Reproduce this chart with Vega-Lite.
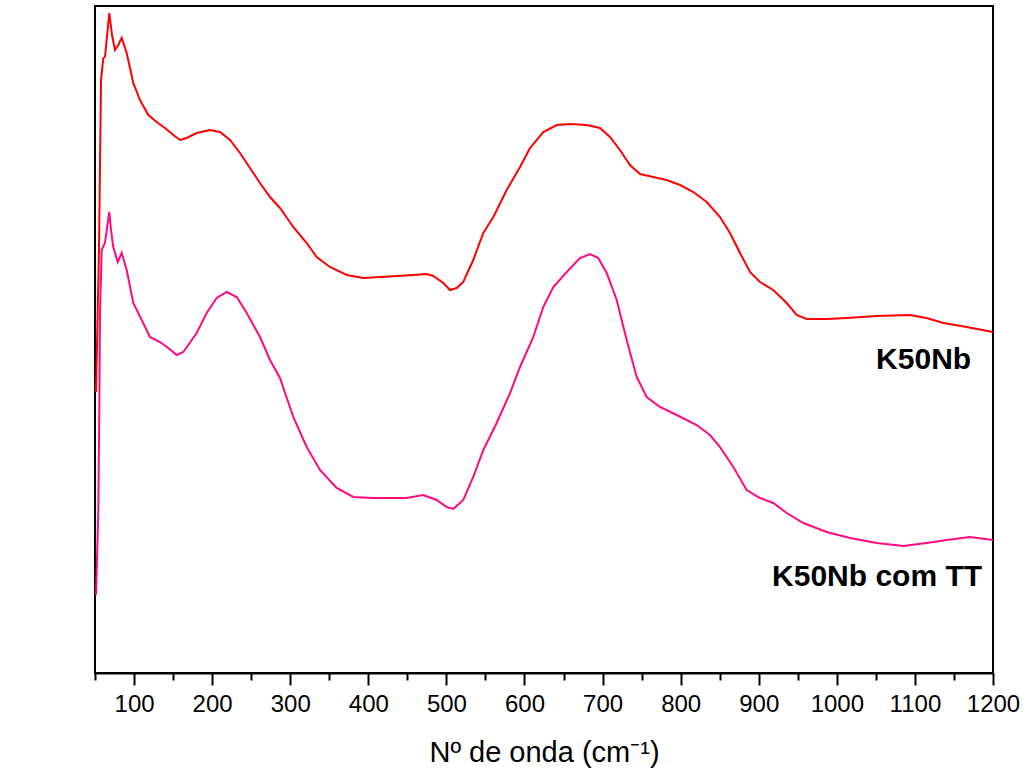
{
  "$schema": "https://vega.github.io/schema/vega-lite/v6.json",
  "width": 898,
  "height": 667,
  "autosize": {"type": "none"},
  "padding": {"left": 95, "top": 6, "right": 35, "bottom": 107},
  "background": "white",
  "config": {
    "font": "Liberation Sans",
    "view": {"stroke": "black", "strokeWidth": 2},
    "axis": {"domainColor": "black", "domainWidth": 2, "tickColor": "black", "tickWidth": 2, "labelColor": "black", "titleColor": "black", "labelFont": "Liberation Sans", "titleFont": "Liberation Sans", "titleFontWeight": "normal", "grid": false}
  },
  "datasets": {
    "spectra": [
      {"w": 51.3, "I": 281, "s": "K50Nb"},
      {"w": 55.1, "I": 423, "s": "K50Nb"},
      {"w": 57.7, "I": 593, "s": "K50Nb"},
      {"w": 60.6, "I": 615, "s": "K50Nb"},
      {"w": 62.8, "I": 616, "s": "K50Nb"},
      {"w": 65.8, "I": 640, "s": "K50Nb"},
      {"w": 68.3, "I": 660, "s": "K50Nb"},
      {"w": 71.8, "I": 638, "s": "K50Nb"},
      {"w": 75.6, "I": 623, "s": "K50Nb"},
      {"w": 79.8, "I": 628, "s": "K50Nb"},
      {"w": 84.2, "I": 635, "s": "K50Nb"},
      {"w": 90.6, "I": 620, "s": "K50Nb"},
      {"w": 99.0, "I": 590, "s": "K50Nb"},
      {"w": 107.6, "I": 573, "s": "K50Nb"},
      {"w": 118.3, "I": 558, "s": "K50Nb"},
      {"w": 129.0, "I": 551, "s": "K50Nb"},
      {"w": 139.6, "I": 545, "s": "K50Nb"},
      {"w": 150.3, "I": 538, "s": "K50Nb"},
      {"w": 158.9, "I": 533, "s": "K50Nb"},
      {"w": 167.4, "I": 535, "s": "K50Nb"},
      {"w": 180.2, "I": 540, "s": "K50Nb"},
      {"w": 197.3, "I": 543, "s": "K50Nb"},
      {"w": 210.1, "I": 541, "s": "K50Nb"},
      {"w": 222.9, "I": 533, "s": "K50Nb"},
      {"w": 235.7, "I": 520, "s": "K50Nb"},
      {"w": 248.5, "I": 505, "s": "K50Nb"},
      {"w": 261.3, "I": 490, "s": "K50Nb"},
      {"w": 274.1, "I": 476, "s": "K50Nb"},
      {"w": 286.9, "I": 465, "s": "K50Nb"},
      {"w": 303.9, "I": 446, "s": "K50Nb"},
      {"w": 321.1, "I": 430, "s": "K50Nb"},
      {"w": 333.9, "I": 416, "s": "K50Nb"},
      {"w": 350.9, "I": 406, "s": "K50Nb"},
      {"w": 372.3, "I": 398, "s": "K50Nb"},
      {"w": 393.6, "I": 395, "s": "K50Nb"},
      {"w": 415.0, "I": 396, "s": "K50Nb"},
      {"w": 436.4, "I": 397, "s": "K50Nb"},
      {"w": 457.6, "I": 398, "s": "K50Nb"},
      {"w": 474.8, "I": 399, "s": "K50Nb"},
      {"w": 483.2, "I": 397, "s": "K50Nb"},
      {"w": 496.0, "I": 390, "s": "K50Nb"},
      {"w": 504.6, "I": 383, "s": "K50Nb"},
      {"w": 513.2, "I": 385, "s": "K50Nb"},
      {"w": 521.6, "I": 391, "s": "K50Nb"},
      {"w": 534.4, "I": 413, "s": "K50Nb"},
      {"w": 547.3, "I": 440, "s": "K50Nb"},
      {"w": 560.1, "I": 456, "s": "K50Nb"},
      {"w": 577.2, "I": 483, "s": "K50Nb"},
      {"w": 594.3, "I": 506, "s": "K50Nb"},
      {"w": 607.1, "I": 525, "s": "K50Nb"},
      {"w": 624.1, "I": 541, "s": "K50Nb"},
      {"w": 641.3, "I": 548, "s": "K50Nb"},
      {"w": 658.3, "I": 549, "s": "K50Nb"},
      {"w": 679.7, "I": 548, "s": "K50Nb"},
      {"w": 696.7, "I": 545, "s": "K50Nb"},
      {"w": 709.5, "I": 536, "s": "K50Nb"},
      {"w": 722.3, "I": 523, "s": "K50Nb"},
      {"w": 735.1, "I": 508, "s": "K50Nb"},
      {"w": 747.9, "I": 499, "s": "K50Nb"},
      {"w": 765.0, "I": 496, "s": "K50Nb"},
      {"w": 782.1, "I": 493, "s": "K50Nb"},
      {"w": 799.2, "I": 488, "s": "K50Nb"},
      {"w": 816.2, "I": 481, "s": "K50Nb"},
      {"w": 833.4, "I": 471, "s": "K50Nb"},
      {"w": 850.4, "I": 456, "s": "K50Nb"},
      {"w": 863.2, "I": 440, "s": "K50Nb"},
      {"w": 876.0, "I": 420, "s": "K50Nb"},
      {"w": 888.8, "I": 401, "s": "K50Nb"},
      {"w": 901.6, "I": 391, "s": "K50Nb"},
      {"w": 918.6, "I": 383, "s": "K50Nb"},
      {"w": 935.8, "I": 370, "s": "K50Nb"},
      {"w": 948.6, "I": 358, "s": "K50Nb"},
      {"w": 961.4, "I": 354, "s": "K50Nb"},
      {"w": 987.0, "I": 354, "s": "K50Nb"},
      {"w": 1012.6, "I": 355, "s": "K50Nb"},
      {"w": 1051.0, "I": 357, "s": "K50Nb"},
      {"w": 1093.7, "I": 358, "s": "K50Nb"},
      {"w": 1115.0, "I": 355, "s": "K50Nb"},
      {"w": 1136.3, "I": 350, "s": "K50Nb"},
      {"w": 1166.3, "I": 346, "s": "K50Nb"},
      {"w": 1200.0, "I": 341, "s": "K50Nb"},

      {"w": 51.3, "I": 78, "s": "K50Nb com TT"},
      {"w": 54.2, "I": 160, "s": "K50Nb com TT"},
      {"w": 55.5, "I": 260, "s": "K50Nb com TT"},
      {"w": 56.4, "I": 360, "s": "K50Nb com TT"},
      {"w": 58.6, "I": 423, "s": "K50Nb com TT"},
      {"w": 62.8, "I": 430, "s": "K50Nb com TT"},
      {"w": 65.4, "I": 445, "s": "K50Nb com TT"},
      {"w": 68.3, "I": 461, "s": "K50Nb com TT"},
      {"w": 70.5, "I": 443, "s": "K50Nb com TT"},
      {"w": 73.4, "I": 426, "s": "K50Nb com TT"},
      {"w": 79.1, "I": 411, "s": "K50Nb com TT"},
      {"w": 84.2, "I": 420, "s": "K50Nb com TT"},
      {"w": 90.6, "I": 403, "s": "K50Nb com TT"},
      {"w": 99.0, "I": 370, "s": "K50Nb com TT"},
      {"w": 109.8, "I": 353, "s": "K50Nb com TT"},
      {"w": 120.4, "I": 336, "s": "K50Nb com TT"},
      {"w": 133.2, "I": 331, "s": "K50Nb com TT"},
      {"w": 143.9, "I": 325, "s": "K50Nb com TT"},
      {"w": 154.6, "I": 318, "s": "K50Nb com TT"},
      {"w": 163.1, "I": 321, "s": "K50Nb com TT"},
      {"w": 180.2, "I": 340, "s": "K50Nb com TT"},
      {"w": 193.0, "I": 360, "s": "K50Nb com TT"},
      {"w": 205.8, "I": 375, "s": "K50Nb com TT"},
      {"w": 218.7, "I": 381, "s": "K50Nb com TT"},
      {"w": 231.5, "I": 376, "s": "K50Nb com TT"},
      {"w": 244.3, "I": 360, "s": "K50Nb com TT"},
      {"w": 261.3, "I": 336, "s": "K50Nb com TT"},
      {"w": 274.1, "I": 313, "s": "K50Nb com TT"},
      {"w": 286.9, "I": 295, "s": "K50Nb com TT"},
      {"w": 303.9, "I": 256, "s": "K50Nb com TT"},
      {"w": 321.1, "I": 226, "s": "K50Nb com TT"},
      {"w": 338.1, "I": 203, "s": "K50Nb com TT"},
      {"w": 359.5, "I": 185, "s": "K50Nb com TT"},
      {"w": 380.8, "I": 176, "s": "K50Nb com TT"},
      {"w": 406.4, "I": 175, "s": "K50Nb com TT"},
      {"w": 432.0, "I": 175, "s": "K50Nb com TT"},
      {"w": 449.1, "I": 175, "s": "K50Nb com TT"},
      {"w": 470.4, "I": 178, "s": "K50Nb com TT"},
      {"w": 487.6, "I": 173, "s": "K50Nb com TT"},
      {"w": 500.4, "I": 166, "s": "K50Nb com TT"},
      {"w": 508.8, "I": 164, "s": "K50Nb com TT"},
      {"w": 521.6, "I": 173, "s": "K50Nb com TT"},
      {"w": 534.4, "I": 196, "s": "K50Nb com TT"},
      {"w": 547.3, "I": 223, "s": "K50Nb com TT"},
      {"w": 564.4, "I": 250, "s": "K50Nb com TT"},
      {"w": 581.5, "I": 280, "s": "K50Nb com TT"},
      {"w": 594.3, "I": 306, "s": "K50Nb com TT"},
      {"w": 611.3, "I": 336, "s": "K50Nb com TT"},
      {"w": 624.1, "I": 366, "s": "K50Nb com TT"},
      {"w": 637.0, "I": 386, "s": "K50Nb com TT"},
      {"w": 654.1, "I": 401, "s": "K50Nb com TT"},
      {"w": 671.1, "I": 415, "s": "K50Nb com TT"},
      {"w": 683.9, "I": 419, "s": "K50Nb com TT"},
      {"w": 694.5, "I": 415, "s": "K50Nb com TT"},
      {"w": 705.3, "I": 400, "s": "K50Nb com TT"},
      {"w": 718.1, "I": 373, "s": "K50Nb com TT"},
      {"w": 730.9, "I": 333, "s": "K50Nb com TT"},
      {"w": 743.7, "I": 296, "s": "K50Nb com TT"},
      {"w": 756.5, "I": 276, "s": "K50Nb com TT"},
      {"w": 773.5, "I": 266, "s": "K50Nb com TT"},
      {"w": 794.9, "I": 258, "s": "K50Nb com TT"},
      {"w": 820.5, "I": 248, "s": "K50Nb com TT"},
      {"w": 837.6, "I": 238, "s": "K50Nb com TT"},
      {"w": 850.4, "I": 226, "s": "K50Nb com TT"},
      {"w": 867.4, "I": 206, "s": "K50Nb com TT"},
      {"w": 884.6, "I": 183, "s": "K50Nb com TT"},
      {"w": 901.6, "I": 175, "s": "K50Nb com TT"},
      {"w": 918.6, "I": 170, "s": "K50Nb com TT"},
      {"w": 935.8, "I": 160, "s": "K50Nb com TT"},
      {"w": 957.1, "I": 150, "s": "K50Nb com TT"},
      {"w": 987.0, "I": 141, "s": "K50Nb com TT"},
      {"w": 1016.9, "I": 135, "s": "K50Nb com TT"},
      {"w": 1051.0, "I": 130, "s": "K50Nb com TT"},
      {"w": 1085.1, "I": 127, "s": "K50Nb com TT"},
      {"w": 1115.0, "I": 130, "s": "K50Nb com TT"},
      {"w": 1140.7, "I": 133, "s": "K50Nb com TT"},
      {"w": 1170.5, "I": 136, "s": "K50Nb com TT"},
      {"w": 1200.0, "I": 133, "s": "K50Nb com TT"}
    ],
    "labels": [
      {"w": 1172, "I": 313, "label": "K50Nb"},
      {"w": 1186, "I": 96, "label": "K50Nb com TT"}
    ]
  },
  "layer": [
    {
      "data": {"name": "spectra"},
      "mark": {"type": "line", "strokeWidth": 2, "interpolate": "linear"},
      "encoding": {
        "x": {
          "field": "w", "type": "quantitative",
          "scale": {"domain": [50, 1200], "nice": false, "zero": false},
          "axis": {
            "orient": "bottom",
            "values": [100, 200, 300, 400, 500, 600, 700, 800, 900, 1000, 1100, 1200],
            "format": "d",
            "tickSize": 12, "labelFontSize": 24, "labelPadding": 7,
            "labelFlush": false, "labelOverlap": false,
            "title": "Nº de onda (cm⁻¹)", "titleFontSize": 29, "titlePadding": 22
          }
        },
        "y": {
          "field": "I", "type": "quantitative",
          "scale": {"domain": [0, 667], "nice": false, "zero": false},
          "axis": {
            "ticks": false, "labels": false,
            "title": "Intensidade (u.a.)", "titleFontSize": 29,
            "titleX": -57, "titleY": 317, "titleAngle": -90, "titleBaseline": "bottom", "titleAlign": "center"
          }
        },
        "color": {
          "field": "s", "type": "nominal",
          "scale": {"domain": ["K50Nb", "K50Nb com TT"], "range": ["#ff0000", "#ff0a80"]},
          "legend": null
        }
      }
    },
    {
      "data": {"name": "spectra"},
      "mark": {"type": "line", "opacity": 0},
      "encoding": {
        "x": {
          "field": "w", "type": "quantitative",
          "axis": {
            "orient": "bottom",
            "values": [50, 150, 250, 350, 450, 550, 650, 750, 850, 950, 1050, 1150],
            "tickSize": 7, "labels": false, "domain": false, "title": null
          }
        },
        "y": {"field": "I", "type": "quantitative", "axis": null},
        "detail": {"field": "s"}
      }
    },
    {
      "data": {"name": "labels"},
      "mark": {"type": "text", "align": "right", "baseline": "middle", "fontSize": 30, "fontWeight": "bold", "font": "Liberation Sans", "color": "black"},
      "encoding": {
        "x": {"field": "w", "type": "quantitative", "axis": null},
        "y": {"field": "I", "type": "quantitative", "axis": null},
        "text": {"field": "label"}
      }
    }
  ],
  "resolve": {"axis": {"x": "independent"}}
}
